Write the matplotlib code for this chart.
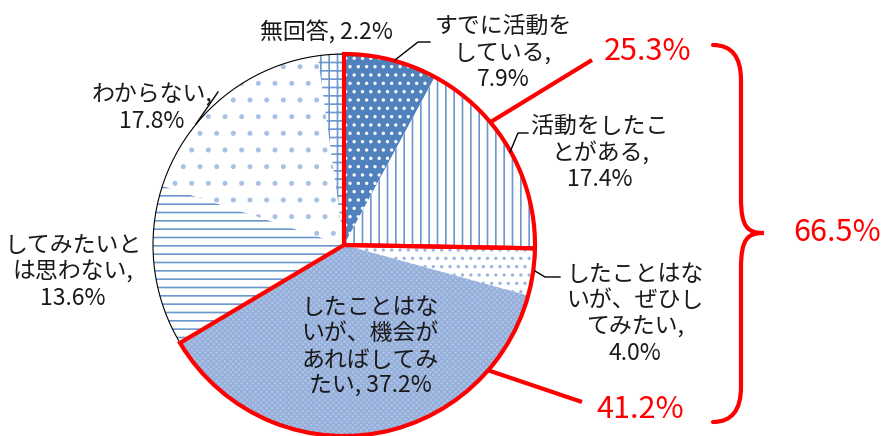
# -*- coding: utf-8 -*-
"""Pie chart of volunteer-activity answers with grouped red outlines."""
import matplotlib
matplotlib.use("Agg")
import matplotlib.pyplot as plt
from matplotlib.patches import Wedge, Circle, PathPatch
from matplotlib.path import Path
import numpy as np

plt.rcParams["font.family"] = ["Noto Sans CJK JP", "DejaVu Sans"]
plt.rcParams["hatch.linewidth"] = 1.2

labels = ["すでに活動を\nしている,\n7.9%", "活動をしたこ\nとがある,\n17.4%",
          "したことはな\nいが、ぜひし\nてみたい,\n4.0%",
          "したことはな\nいが、機会が\nあればしてみ\nたい, 37.2%",
          "してみたいと\nは思わない,\n13.6%", "わからない,\n17.8%", "無回答, 2.2%"]
values = [7.9, 17.4, 4.0, 37.2, 13.6, 17.8, 2.2]
group_labels = ["25.3%", "41.2%"]
total_label = "66.5%"

faces = ["#4f81bd", "white", "white", "#b0c4e6", "white", "white", "white"]
hatch_cols = ["white", "#6d97cf", "#9db6e0", "#95afdb", "#6d97cf", "#aac1e6", "#6d97cf"]
hatches = ["..", "||", "..", "xxxxxx", "--", ".", "++"]

W, H = 889, 436
fig = plt.figure(figsize=(W / 100, H / 100), dpi=100)
ax = fig.add_axes([0, 0, 1, 1])


def P(x, y):
    # pixel coords (top-left origin) -> axes data coords
    return (x, H - y)


cx, cy = P(344, 245)
R = 191
wedges, _ = ax.pie(values, startangle=90, counterclock=False, center=(cx, cy),
                   radius=R, frame=True)
ax.set_xlim(0, W); ax.set_ylim(0, H); ax.set_aspect("equal"); ax.axis("off")
for w, fc, hc, h in zip(wedges, faces, hatch_cols, hatches):
    w.set_facecolor(fc); w.set_edgecolor(hc); w.set_hatch(h); w.set_linewidth(0)

ax.add_patch(Circle((cx, cy), R, fill=False, ec="black", lw=0.8, zorder=3))

# red outlines around the two groups
g1 = (wedges[1].theta1, wedges[0].theta2)
g2 = (wedges[3].theta1, wedges[2].theta2)
for t1, t2 in (g1, g2):
    ax.add_patch(Wedge((cx, cy), R, t1, t2, fill=False, ec="#ff0000", lw=3, zorder=4))

red = "#ff0000"
# connector lines to the group labels
for ang, end, lab, lpos in ((40, (592, 60), group_labels[0], (648, 52)),
                            (-41, (582, 402), group_labels[1], (640, 410))):
    a = np.deg2rad(ang)
    sx, sy = cx + R * np.cos(a), cy + R * np.sin(a)
    ex, ey = P(*end)
    ax.plot([sx, ex], [sy, ey], color=red, lw=3, solid_capstyle="butt", zorder=5)
    ax.text(*P(*lpos), lab, color=red, fontsize=22, ha="center", va="center")

# curly brace
bx, top, mid, bot = 713, 45, 233, 422
verts = [P(bx, top), P(741, top), P(741, top + 35), P(741, mid - 35),
         P(741, mid - 5), P(748, mid), P(764, mid),
         P(748, mid), P(741, mid + 5), P(741, mid + 35),
         P(741, bot - 35), P(741, bot), P(bx, bot)]
codes = [Path.MOVETO, Path.CURVE3, Path.CURVE3, Path.LINETO,
         Path.CURVE4, Path.CURVE4, Path.CURVE4,
         Path.CURVE4, Path.CURVE4, Path.CURVE4,
         Path.LINETO, Path.CURVE3, Path.CURVE3]
ax.add_patch(PathPatch(Path(verts, codes), fill=False, ec=red, lw=3, capstyle="round"))
ax.text(*P(837, 233), total_label, color=red, fontsize=22, ha="center", va="center")

# category labels
txt = dict(fontsize=16.5, color="#1a1a1a", ha="center", va="center", linespacing=1.18)
label_pos = [(503, 53), (600, 153), (635, 314), (370, 347), (73, 272), (152, 108), (326, 32)]
for lab, pos in zip(labels, label_pos):
    ax.text(*P(*pos), lab, **txt)

# leader lines
leaders = [[(395, 60), (418, 42), (430, 42)],
           [(510, 152), (518, 133), (528, 133)],
           [(535, 271), (545, 277), (560, 277)],
           [(218, 92), (196, 124)]]
for pts in leaders:
    xs, ys = zip(*[P(*p) for p in pts])
    ax.plot(xs, ys, color="black", lw=1, zorder=5)

fig.savefig("out.png", dpi=100)
plt.close(fig)
